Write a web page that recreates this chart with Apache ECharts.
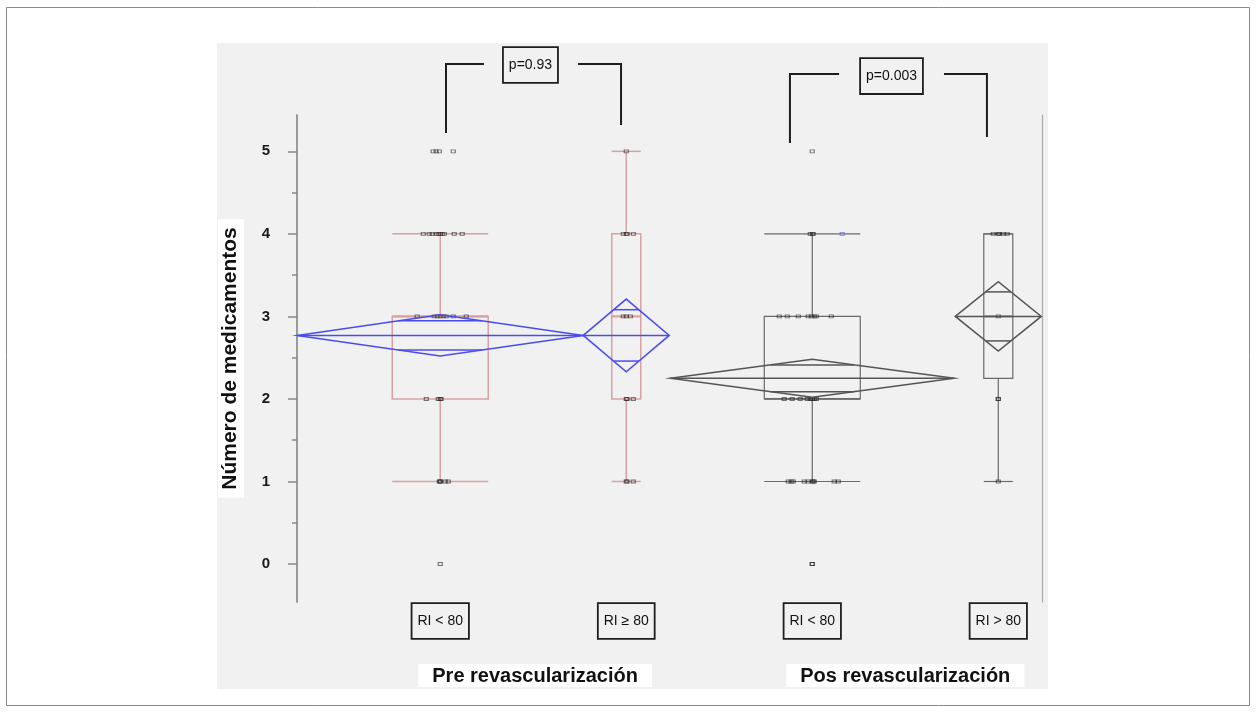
<!DOCTYPE html>
<html>
<head>
<meta charset="utf-8">
<script src="https://cdn.jsdelivr.net/npm/echarts@6/dist/echarts.min.js"></script>
<style>
  html, body { margin: 0; padding: 0; background: #fff; }
  #chart { width: 1256px; height: 712px; }
</style>
</head>
<body>
<div id="chart"></div>
<script>
// Categorías y etiquetas
const categories = ['RI < 80', 'RI \u2265 80', 'RI < 80', 'RI > 80'];
const groupNames = ['Pre revascularización', 'Pos revascularización'];
const groupCenters = [1.51, 3.5];
const yTicks = [0, 1, 2, 3, 4, 5];
const yMinorTicks = [0.5, 1.5, 2.5, 3.5, 4.5];
const pLabels = ['p=0.93', 'p=0.003'];

// Cajas: [mín, Q1, mediana, Q3, máx]
const boxStats = [
  [1, 2, 3, 3, 4],
  [1, 2, 3, 4, 5],
  [1, 2, 2, 3, 4],
  [1, 2.25, 3, 4, 4]
];

// Diamantes de medias (media, semiancho del IC 95%)
const means = [2.77, 2.77, 2.25, 3.0];
const ciHalf = [0.25, 0.44, 0.23, 0.42];

// Observaciones: [valor, desplazamiento horizontal (jitter)]
const pointsPreLow = [
  [5, -0.038], [5, -0.022], [5, -0.005], [5, 0.07],
  [4, -0.091], [4, -0.059], [4, -0.043], [4, -0.022], [4, -0.011], [4, 0], [4, 0.011], [4, 0.022], [4, 0.075], [4, 0.118],
  [3, -0.124], [3, -0.032], [3, -0.016], [3, 0], [3, 0.016], [3, 0.032], [3, 0.07], [3, 0.14],
  [2, -0.075], [2, -0.011], [2, 0], [2, 0.005],
  [1, -0.005], [1, 0], [1, 0], [1, 0.027], [1, 0.043],
  [0, 0]
];
const pointsPreHigh = [
  [5, 0],
  [4, -0.016], [4, 0], [4, 0.005], [4, 0.038],
  [3, -0.016], [3, 0], [3, 0.022],
  [2, 0], [2, 0.005], [2, 0.038],
  [1, 0], [1, 0.005], [1, 0.038]
];
const pointsPosLow = [
  [5, 0],
  [4, -0.011], [4, 0], [4, 0.005],
  [3, -0.177], [3, -0.134], [3, -0.075], [3, -0.022], [3, -0.005], [3, 0.011], [3, 0.022], [3, 0.102],
  [2, -0.151], [2, -0.108], [2, -0.065], [2, -0.027], [2, -0.011], [2, 0], [2, 0.011], [2, 0.022],
  [1, -0.129], [1, -0.113], [1, -0.102], [1, -0.043], [1, -0.022], [1, 0], [1, 0.005], [1, 0.011], [1, 0.118], [1, 0.14],
  [0, 0], [0, 0]
];
const pointsPosLowBlue = [[4, 0.161]];
const pointsPosHigh = [
  [4, -0.027], [4, 0], [4, 0.005], [4, 0.027], [4, 0.048],
  [3, 0],
  [2, 0], [2, 0],
  [1, 0]
];

// Geometría (unidades de datos)
const BOX_HALF = [0.258, 0.078, 0.258, 0.078];
const DIAMOND_HALF = [0.769, 0.231, 0.763, 0.231];
// corchetes: [xIzq, finLineaIzq, xEtiqueta, inicioLineaDer, xDer, yBaseIzq, yBaseDer, ySuperior, yEtiqueta]
const BRACKETS = [
  [1.031, 1.235, 1.485, 1.741, 1.972, 5.221, 5.318, 6.057, 6.045],
  [2.880, 3.144, 3.426, 3.708, 3.939, 5.100, 5.173, 5.936, 5.911]
];

const PRE_BOX = '#d9a2a2';
const POS_BOX = '#6a6a6a';
const PRE_DIAMOND = '#4b4bf0';
const POS_DIAMOND = '#555555';
const NARROW = "'Liberation Sans Narrow', 'Arial Narrow', 'Liberation Sans', Arial, sans-serif";
const SANS = "'Liberation Sans', Arial, sans-serif";

const chart = echarts.init(document.getElementById('chart'));

function toScatter(points, cat) {
  return points.map(p => [cat + p[1], p[0]]);
}

function renderBox(params, api) {
  const i = params.dataIndex;
  const c = api.value(0);
  const s = boxStats[i];
  const hw = BOX_HALF[i];
  const color = i < 2 ? PRE_BOX : POS_BOX;
  const lw = i < 2 ? 1.5 : 1.2;
  const pt = (x, y) => api.coord([x, y]);
  const line = (a, b, w) => ({
    type: 'line',
    shape: { x1: a[0], y1: a[1], x2: b[0], y2: b[1] },
    style: { stroke: color, lineWidth: w || lw }
  });
  const tl = pt(c - hw, s[3]);
  const br = pt(c + hw, s[1]);
  return {
    type: 'group',
    children: [
      line(pt(c, s[0]), pt(c, s[1])),
      line(pt(c, s[3]), pt(c, s[4])),
      line(pt(c - hw, s[0]), pt(c + hw, s[0])),
      line(pt(c - hw, s[4]), pt(c + hw, s[4])),
      {
        type: 'rect',
        shape: { x: tl[0], y: tl[1], width: br[0] - tl[0], height: br[1] - tl[1] },
        style: { fill: 'none', stroke: color, lineWidth: lw }
      },
      line(pt(c - hw, s[2]), pt(c + hw, s[2]), lw + 0.6)
    ]
  };
}

function renderDiamond(params, api) {
  const i = params.dataIndex;
  const c = api.value(0);
  const m = api.value(1);
  const ci = ciHalf[i];
  const hw = DIAMOND_HALF[i];
  const color = i < 2 ? PRE_DIAMOND : POS_DIAMOND;
  const pt = (x, y) => api.coord([x, y]);
  const ov = ci * Math.SQRT1_2;
  const ow = hw * (1 - Math.SQRT1_2);
  const seg = (x1, x2, y) => {
    const a = pt(x1, y), b = pt(x2, y);
    return { type: 'line', shape: { x1: a[0], y1: a[1], x2: b[0], y2: b[1] }, style: { stroke: color, lineWidth: 1.5 } };
  };
  return {
    type: 'group',
    children: [
      {
        type: 'polygon',
        shape: { points: [pt(c - hw, m), pt(c, m + ci), pt(c + hw, m), pt(c, m - ci)] },
        style: { fill: 'none', stroke: color, lineWidth: 1.5 }
      },
      seg(c - hw, c + hw, m),
      seg(c - ow, c + ow, m + ov),
      seg(c - ow, c + ow, m - ov)
    ]
  };
}

function renderBracket(params, api) {
  const b = BRACKETS[params.dataIndex];
  const pt = (x, y) => api.coord([x, y]);
  const st = { stroke: '#1e1e1e', lineWidth: 2, fill: 'none' };
  return {
    type: 'group',
    children: [
      { type: 'polyline', shape: { points: [pt(b[0], b[5]), pt(b[0], b[7]), pt(b[1], b[7])] }, style: st },
      { type: 'polyline', shape: { points: [pt(b[3], b[7]), pt(b[4], b[7]), pt(b[4], b[6])] }, style: st },
      {
        type: 'text',
        x: pt(b[2], b[8])[0],
        y: pt(b[2], b[8])[1],
        style: {
          text: pLabels[params.dataIndex],
          font: '14px ' + NARROW,
          fill: '#111',
          align: 'center',
          verticalAlign: 'middle',
          padding: [10, 5],
          borderColor: '#1e1e1e',
          borderWidth: 1.8,
          backgroundColor: '#f1f1f1'
        }
      }
    ]
  };
}

const scatterStyle = {
  color: 'rgba(0,0,0,0)',
  borderColor: 'rgba(30,30,30,0.75)',
  borderWidth: 1
};

chart.setOption({
  animation: false,
  backgroundColor: '#ffffff',
  graphic: [
    { type: 'rect', z: -10, shape: { x: 6.5, y: 7.5, width: 1243, height: 698 }, style: { fill: '#fff', stroke: '#8a8a8a', lineWidth: 1 } },
    { type: 'rect', z: -9, shape: { x: 217, y: 43, width: 831, height: 646 }, style: { fill: '#f1f1f1' } }
  ],
  grid: { left: 297, top: 115, width: 745, height: 487 },
  xAxis: [
    {
      type: 'value', min: 0.23, max: 4.235,
      axisLine: { show: false }, axisTick: { show: false }, splitLine: { show: false },
      axisLabel: {
        customValues: [1, 2, 3, 4],
        formatter: v => categories[Math.round(v) - 1],
        margin: 2,
        fontFamily: NARROW, fontSize: 14, color: '#111',
        padding: [10, 5],
        borderColor: '#1e1e1e', borderWidth: 1.8,
        backgroundColor: '#f1f1f1'
      }
    },
    {
      type: 'value', min: 0.23, max: 4.235, position: 'bottom',
      axisLine: { show: false }, axisTick: { show: false }, splitLine: { show: false },
      axisLabel: {
        customValues: groupCenters,
        formatter: v => groupNames[groupCenters.indexOf(v)],
        margin: 62,
        fontFamily: SANS, fontSize: 20, fontWeight: 'bold', color: '#111',
        padding: [2, 14, 1, 14],
        backgroundColor: '#ffffff'
      }
    }
  ],
  yAxis: [
    {
      type: 'value', min: -0.46, max: 5.44, position: 'left',
      name: 'Número de medicamentos',
      nameLocation: 'middle', nameRotate: 90, nameGap: 53,
      nameTextStyle: {
        fontFamily: SANS, fontSize: 21, fontWeight: 'bold', color: '#111',
        backgroundColor: '#ffffff', padding: [2, 8, 3, 8]
      },
      axisLine: { show: true, lineStyle: { color: '#9a9a9a', width: 2 } },
      axisTick: { show: true, customValues: yTicks, length: 9, lineStyle: { color: '#888', width: 1.5 } },
      axisLabel: {
        customValues: yTicks, margin: 27,
        fontFamily: NARROW, fontSize: 15, fontWeight: 'bold', color: '#1a1a1a'
      },
      splitLine: { show: false }
    },
    {
      type: 'value', min: -0.46, max: 5.44, position: 'left',
      axisLine: { show: false },
      axisTick: { show: true, customValues: yMinorTicks, length: 5, lineStyle: { color: '#888', width: 1.5 } },
      axisLabel: { show: false },
      splitLine: { show: false }
    },
    {
      type: 'value', min: -0.46, max: 5.44, position: 'right',
      axisLine: { show: true, lineStyle: { color: '#a8a8a8', width: 1.2 } },
      axisTick: { show: false }, axisLabel: { show: false }, splitLine: { show: false }
    }
  ],
  series: [
    {
      type: 'custom', name: 'cajas', renderItem: renderBox, clip: false, z: 2,
      data: boxStats.map((s, i) => [i + 1, s[2]])
    },
    {
      type: 'scatter', name: 'Pre RI<80', symbol: 'rect', symbolSize: [4, 3], z: 3,
      itemStyle: scatterStyle, data: toScatter(pointsPreLow, 1)
    },
    {
      type: 'scatter', name: 'Pre RI>=80', symbol: 'rect', symbolSize: [4, 3], z: 3,
      itemStyle: scatterStyle, data: toScatter(pointsPreHigh, 2)
    },
    {
      type: 'scatter', name: 'Pos RI<80', symbol: 'rect', symbolSize: [4, 3], z: 3,
      itemStyle: scatterStyle, data: toScatter(pointsPosLow, 3)
    },
    {
      type: 'scatter', name: 'Pos RI<80 b', symbol: 'rect', symbolSize: [4, 3], z: 3,
      itemStyle: { color: 'rgba(0,0,0,0)', borderColor: '#6b6bf0', borderWidth: 1 },
      data: toScatter(pointsPosLowBlue, 3)
    },
    {
      type: 'scatter', name: 'Pos RI>80', symbol: 'rect', symbolSize: [4, 3], z: 3,
      itemStyle: scatterStyle, data: toScatter(pointsPosHigh, 4)
    },
    {
      type: 'custom', name: 'diamantes', renderItem: renderDiamond, clip: false, z: 4,
      data: means.map((m, i) => [i + 1, m])
    },
    {
      type: 'custom', name: 'p', renderItem: renderBracket, clip: false, z: 5,
      data: BRACKETS.map(b => [b[2], b[8]])
    }
  ]
});
</script>
</body>
</html>
